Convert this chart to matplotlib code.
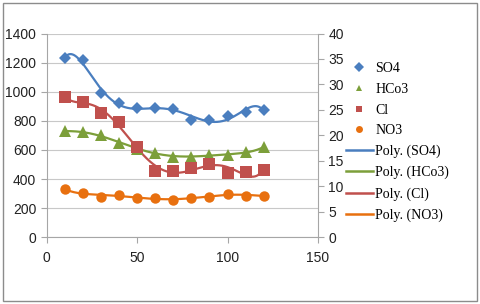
import numpy as np
import matplotlib
matplotlib.use("Agg")
import matplotlib.pyplot as plt
from matplotlib.lines import Line2D
from matplotlib.patches import Rectangle

# ---- data ----
x = [10, 20, 30, 40, 50, 60, 70, 80, 90, 100, 110, 120]
so4 = [1230, 1215, 990, 920, 890, 890, 880, 805, 805, 830, 860, 875]
hco3 = [730, 720, 700, 650, 610, 580, 555, 555, 565, 565, 585, 620]
cl = [965, 930, 855, 795, 620, 455, 455, 475, 505, 445, 450, 465]
no3 = [330, 307, 280, 290, 272, 268, 257, 268, 280, 297, 287, 285]
names = ["SO4", "HCo3", "Cl", "NO3"]
left_ticks = [0, 200, 400, 600, 800, 1000, 1200, 1400]
right_ticks = [0, 5, 10, 15, 20, 25, 30, 35, 40]
x_ticks = [0, 50, 100, 150]

colors = ["#4A7EBF", "#7C9F3A", "#C0504D", "#E8700F"]
markers = ["D", "^", "s", "o"]
msizes = [6.5, 8, 8, 7.5]
series = [so4, hco3, cl, no3]

fig = plt.figure(figsize=(4.8, 3.04), dpi=100)
fig.patches.append(Rectangle((0.006, 0.01), 0.988, 0.98, transform=fig.transFigure,
                             fill=False, edgecolor="#8C8C8C", linewidth=1.0))
ax = fig.add_axes([0.097, 0.2194, 0.5655, 0.6704])

xa = np.array(x, dtype=float)
xs = np.linspace(10, 120, 300)
for ys, c, m, ms in zip(series, colors, markers, msizes):
    coef = np.polyfit(xa, np.array(ys, dtype=float), 6)
    ax.plot(xs, np.polyval(coef, xs), color=c, lw=1.6, zorder=2)
    ax.plot(x, ys, linestyle="none", marker=m, markersize=ms, color=c,
            markeredgewidth=0, zorder=3)

ax.set_xlim(0, 150)
ax.set_ylim(0, 1400)
ax.set_xticks(x_ticks)
ax.set_yticks(left_ticks)
ax.grid(axis="y", color="#C8C8C8", lw=0.8)
ax.set_axisbelow(True)
for s in ["top", "right"]:
    ax.spines[s].set_visible(False)
for s in ["left", "bottom"]:
    ax.spines[s].set_color("#A6A6A6")
ax.tick_params(axis="both", colors="#A6A6A6", labelcolor="#222222",
               labelsize=10, length=4, width=0.8, direction="out")
ax.tick_params(axis="x", pad=6)
for lab in ax.get_xticklabels() + ax.get_yticklabels():
    lab.set_family("Liberation Sans")

ax2 = ax.twinx()
ax2.set_ylim(0, 40)
ax2.set_yticks(right_ticks)
for s in ["top", "left", "bottom"]:
    ax2.spines[s].set_visible(False)
ax2.spines["right"].set_color("#A6A6A6")
ax2.tick_params(axis="y", colors="#A6A6A6", labelcolor="#222222",
                labelsize=10, length=4, width=0.8, direction="out")
for lab in ax2.get_yticklabels():
    lab.set_family("Liberation Sans")

handles = []
labels = []
for n, c, m in zip(names, colors, markers):
    handles.append(Line2D([], [], linestyle="none", marker=m, markersize=5,
                          color=c, markeredgewidth=0))
    labels.append(n)
for n, c in zip(names, colors):
    handles.append(Line2D([], [], color=c, lw=1.8))
    labels.append("Poly. (%s)" % n)

fig.legend(handles, labels, loc="upper left", bbox_to_anchor=(0.72, 0.795),
           frameon=False, prop={"family": "Liberation Serif", "size": 10},
           handlelength=2.0, handletextpad=0.15, labelspacing=0.55,
           borderaxespad=0, borderpad=0)

fig.savefig("out.png", dpi=100)
